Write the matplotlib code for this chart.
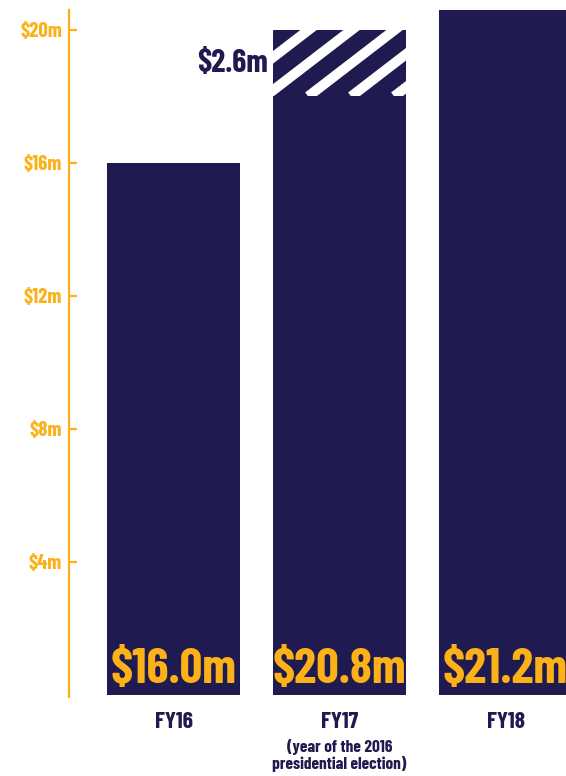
import matplotlib
matplotlib.use('Agg')
import matplotlib.pyplot as plt
from matplotlib.patches import Rectangle
import numpy as np

# Data
years = ['FY16', 'FY17', 'FY18']
bar_heights = [16.0, 20.0, 20.6]        # drawn heights ($m)
hatched_part = [0.0, 2.0, 0.0]          # hatched top segment ($m)
bar_labels = ['$16.0m', '$20.8m', '$21.2m']
hatch_label = '$2.6m'
sub_labels = ['', '(year of the 2016\npresidential election)', '']
yticks = [4, 8, 12, 16, 20]
ytick_labels = ['$4m', '$8m', '$12m', '$16m', '$20m']

NAVY = '#1f1a4f'
GOLD = '#fbb117'
FONT = ['Barlow Condensed', 'DejaVu Sans']

plt.rcParams['font.family'] = FONT
plt.rcParams['font.weight'] = 'bold'

fig = plt.figure(figsize=(5.66, 7.76), dpi=100)
ax = fig.add_axes([69 / 566, 81 / 776, 497 / 566, 695 / 776])

x = np.arange(len(years))
width = 0.8
ax.bar(x, bar_heights, width=width, color=NAVY, zorder=2)

ax.set_xlim(-0.63, -0.63 + 497 / 166)
ax.set_ylim(0, 20.9)

# white diagonal stripes on the hatched segments (~37 deg, ~43px apart)
px_x = 1 / 166.0
px_y = 1 / 33.25
for xi, h, hp in zip(x, bar_heights, hatched_part):
    if hp <= 0:
        continue
    clip = Rectangle((xi - width / 2, h - hp), width, hp, transform=ax.transData,
                     facecolor='none', edgecolor='none')
    ax.add_patch(clip)
    for k in range(-4, 6):
        x0 = xi - width / 2 + (k * 43 - 8) * px_x
        xs = [x0, x0 + 130 * px_x]
        ys = [h - hp, h - hp + 100 * px_y]
        ln, = ax.plot(xs, ys, color='white', lw=7.2, solid_capstyle='butt', zorder=3)
        ln.set_clip_path(clip)
    ax.text(xi - width / 2 - 0.03, h - hp / 2, hatch_label, ha='right', va='center',
            fontsize=23, color=NAVY, fontweight='bold', family=FONT)

# value labels inside bars
for xi, lab in zip(x, bar_labels):
    ax.text(xi, 0.08, lab, ha='center', va='bottom', fontsize=36, color=GOLD,
            fontweight='bold', family=FONT, zorder=4, clip_on=False)

# axis styling
for s in ['top', 'right', 'bottom']:
    ax.spines[s].set_visible(False)
ax.spines['left'].set_color(GOLD)
ax.spines['left'].set_linewidth(1.6)
ax.spines['left'].set_bounds(-0.05, 20.6)

ax.set_yticks(yticks)
ax.set_yticklabels(ytick_labels)
ax.tick_params(axis='y', direction='in', length=6, width=1.6, color=GOLD,
               labelcolor=GOLD, labelsize=15, pad=5)
for t in ax.get_yticklabels():
    t.set_fontweight('bold')

ax.set_xticks(x)
ax.set_xticklabels(years)
ax.tick_params(axis='x', length=0, labelsize=17, labelcolor=NAVY, pad=12)
for t in ax.get_xticklabels():
    t.set_fontweight('bold')

for xi, sub in zip(x, sub_labels):
    if sub:
        ax.annotate(sub, xy=(xi, 0), xycoords='data', xytext=(0, -31.5),
                    textcoords='offset points', ha='center', va='top',
                    fontsize=12.5, color=NAVY, fontweight='bold', family=FONT,
                    linespacing=1.08, annotation_clip=False)

fig.savefig('out.png', dpi=100)
